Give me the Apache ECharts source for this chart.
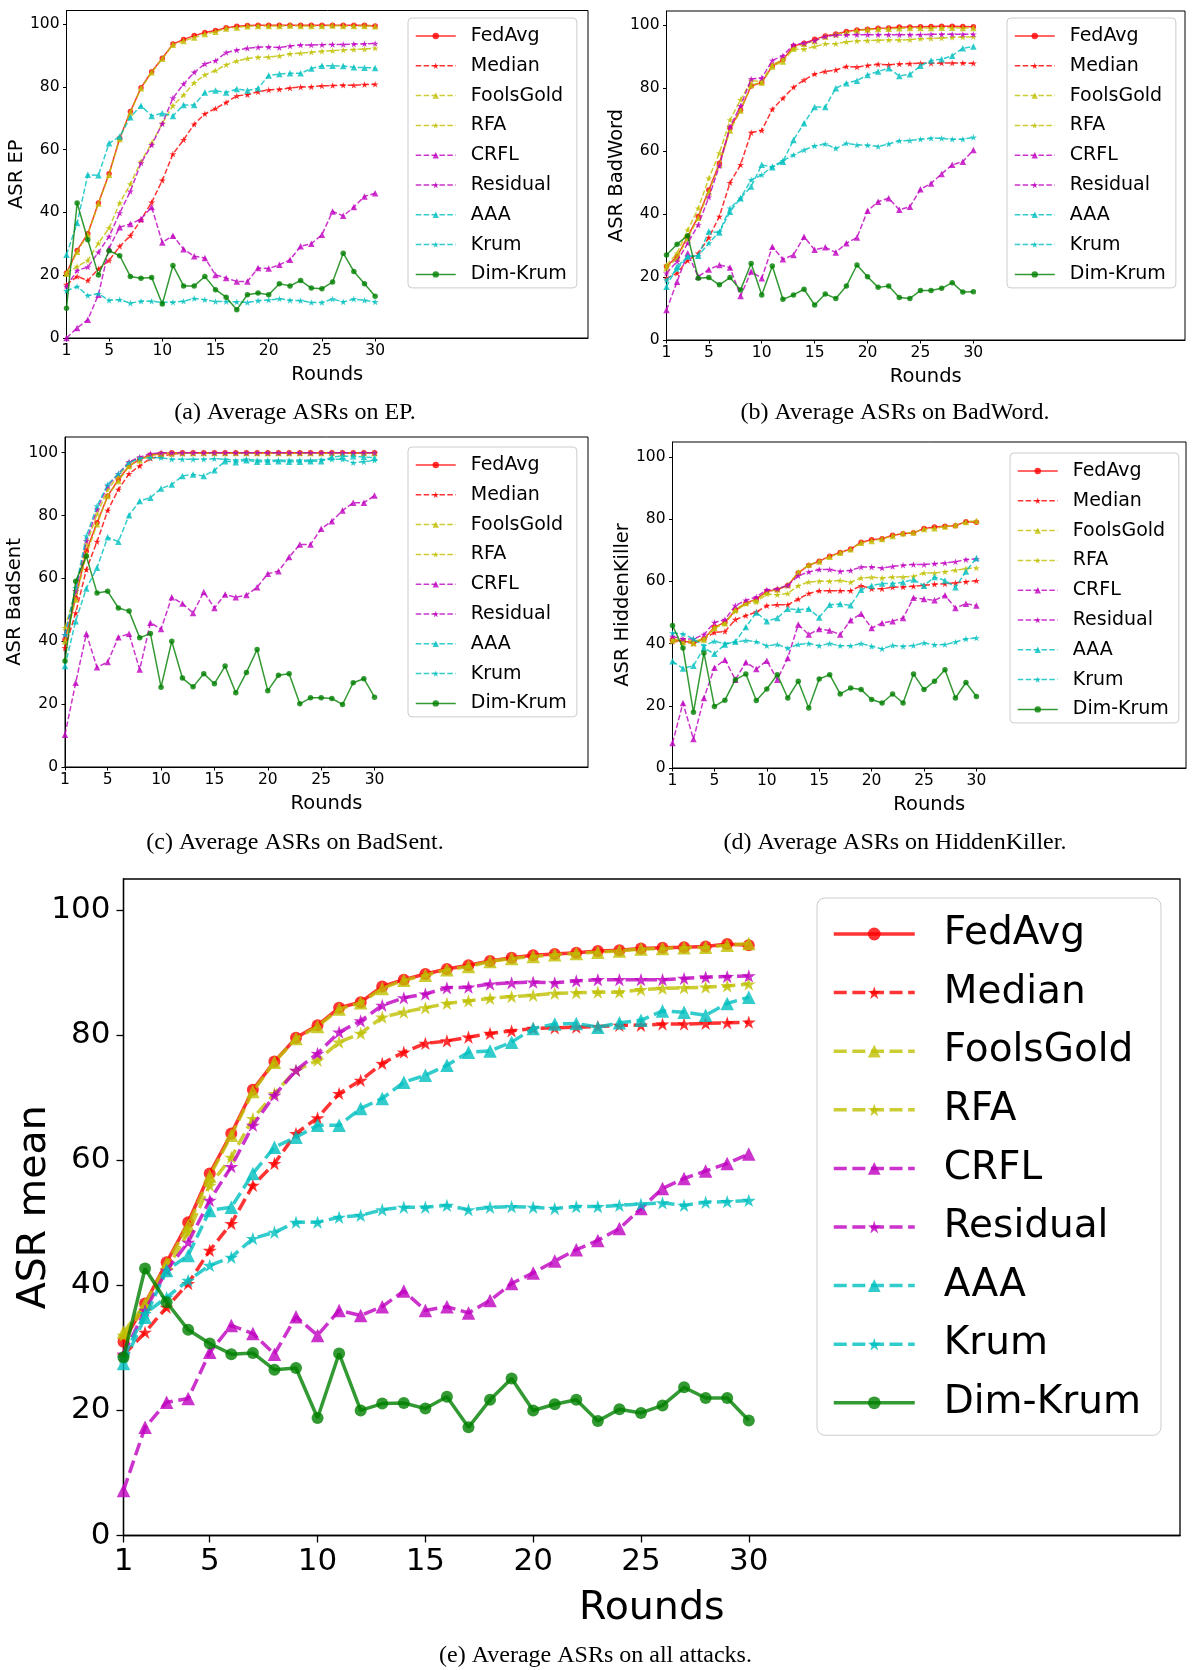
<!DOCTYPE html>
<html>
<head>
<meta charset="utf-8">
<script src="https://cdn.jsdelivr.net/npm/echarts@6/dist/echarts.min.js"></script>
<style>
  html, body { margin: 0; padding: 0; background: #fff; }
  #main { width: 1192px; height: 1670px; }
</style>
</head>
<body>
<div id="main"></div>
<script>
// rounds on the x axis
var rounds = [1, 2, 3, 4, 5, 6, 7, 8, 9, 10, 11, 12, 13, 14, 15, 16, 17, 18, 19, 20, 21, 22, 23, 24, 25, 26, 27, 28, 29, 30];
var xTicks = [1, 5, 10, 15, 20, 25, 30];
var yTicks = [0, 20, 40, 60, 80, 100];
var methods = ['FedAvg', 'Median', 'FoolsGold', 'RFA', 'CRFL', 'Residual', 'AAA', 'Krum', 'Dim-Krum'];

// (a) EP
var epFedAvg = [20.7, 27.9, 33.2, 43.0, 52.3, 63.6, 72.1, 79.7, 84.8, 89.1, 93.6, 95.1, 96.3, 97.3, 97.9, 98.8, 99.3, 99.5, 99.6, 99.6, 99.6, 99.6, 99.6, 99.6, 99.6, 99.6, 99.6, 99.6, 99.6, 99.4];
var epMedian = [17.0, 19.6, 18.3, 22.0, 24.7, 29.2, 32.6, 37.6, 43.2, 50.2, 58.6, 63.1, 68.1, 71.4, 73.1, 75.0, 77.1, 77.5, 78.4, 79.0, 79.2, 79.6, 79.9, 80.0, 80.3, 80.4, 80.5, 80.5, 80.7, 80.8];
var epFoolsGold = [20.5, 27.5, 33.0, 42.8, 52.0, 63.4, 71.8, 79.5, 84.6, 88.9, 93.4, 94.6, 95.7, 96.8, 97.5, 98.6, 98.9, 99.3, 99.4, 99.4, 99.4, 99.5, 99.4, 99.4, 99.4, 99.5, 99.4, 99.4, 99.4, 99.3];
var epRFA = [20.7, 22.8, 24.7, 30.2, 35.0, 43.0, 49.0, 56.2, 62.0, 68.4, 74.0, 77.4, 81.3, 83.8, 85.2, 87.0, 88.2, 89.0, 89.4, 89.5, 89.8, 90.5, 90.7, 91.0, 91.3, 91.5, 91.7, 91.9, 92.0, 92.3];
var epCRFL = [0.0, 3.2, 5.8, 13.8, 28.6, 35.3, 36.3, 37.9, 41.7, 30.4, 32.6, 28.3, 26.0, 25.5, 20.1, 19.1, 18.0, 18.0, 22.3, 22.1, 23.3, 24.9, 29.2, 30.0, 32.9, 40.3, 38.9, 41.7, 45.1, 46.1];
var epResidual = [16.4, 21.5, 22.6, 27.3, 32.3, 39.8, 46.7, 55.7, 61.5, 68.2, 76.4, 80.9, 84.6, 87.3, 88.3, 90.9, 91.7, 92.3, 92.6, 92.7, 92.5, 93.0, 93.3, 93.3, 93.4, 93.5, 93.5, 93.6, 93.7, 93.8];
var epAAA = [26.5, 36.6, 52.0, 51.8, 62.0, 64.2, 70.3, 74.0, 70.7, 71.6, 70.7, 74.2, 74.2, 78.2, 78.8, 78.2, 79.3, 78.8, 79.5, 83.6, 84.1, 84.3, 84.3, 85.8, 86.7, 86.7, 86.6, 86.2, 86.1, 86.0];
var epKrum = [15.0, 16.4, 13.5, 14.1, 12.0, 12.2, 11.1, 11.7, 11.7, 11.3, 11.4, 11.7, 12.6, 12.2, 11.6, 11.6, 11.5, 11.3, 11.9, 12.1, 12.5, 12.0, 11.9, 11.3, 11.3, 12.4, 11.5, 12.4, 12.0, 11.5];
var epDimKrum = [9.5, 43.0, 31.3, 20.1, 27.8, 26.2, 19.6, 19.0, 19.3, 10.8, 23.1, 16.6, 16.6, 19.6, 15.4, 13.0, 9.0, 13.8, 14.3, 13.8, 17.3, 16.6, 18.3, 15.9, 15.7, 17.8, 27.0, 21.2, 17.3, 13.3];

// (b) BadWord
var bwFedAvg = [23.3, 26.5, 32.8, 39.2, 47.6, 56.1, 67.2, 73.0, 80.6, 81.7, 87.0, 88.9, 93.3, 94.2, 95.4, 96.5, 97.1, 97.9, 98.4, 98.6, 98.9, 99.0, 99.3, 99.3, 99.4, 99.5, 99.6, 99.6, 99.5, 99.4];
var bwMedian = [19.6, 21.2, 25.2, 27.5, 32.5, 39.2, 49.9, 55.6, 65.8, 66.5, 73.2, 76.7, 80.2, 82.5, 84.4, 85.2, 85.7, 86.8, 86.6, 87.1, 87.5, 87.3, 87.6, 87.7, 87.8, 87.8, 87.9, 87.9, 87.9, 87.8];
var bwFoolsGold = [22.8, 26.0, 32.3, 38.8, 47.0, 55.6, 66.5, 72.8, 80.9, 81.7, 86.8, 88.4, 92.6, 94.0, 94.9, 96.3, 97.0, 97.6, 98.2, 98.5, 98.7, 98.8, 98.9, 99.0, 99.0, 99.0, 99.1, 99.1, 99.0, 99.0];
var bwRFA = [23.8, 27.5, 34.9, 41.8, 51.3, 59.3, 69.8, 76.2, 82.3, 82.0, 87.3, 89.1, 92.3, 92.3, 93.1, 94.0, 94.0, 94.6, 94.9, 95.0, 95.1, 95.2, 95.2, 95.3, 95.6, 95.7, 95.8, 96.0, 96.1, 96.2];
var bwCRFL = [9.5, 18.5, 27.5, 20.1, 22.4, 23.8, 23.0, 14.0, 21.7, 19.6, 29.6, 25.6, 27.0, 32.8, 28.6, 29.4, 27.8, 30.7, 32.5, 41.0, 43.9, 45.0, 41.3, 42.3, 47.8, 49.7, 52.7, 55.6, 56.6, 60.3];
var bwResidual = [21.2, 24.9, 30.7, 36.5, 45.3, 55.2, 67.7, 74.3, 82.8, 83.1, 88.7, 90.2, 93.7, 94.2, 95.0, 96.3, 96.8, 96.8, 96.9, 96.9, 96.9, 96.9, 96.9, 96.9, 96.9, 97.0, 97.0, 97.0, 97.0, 97.0];
var bwAAA = [16.9, 23.3, 26.5, 26.7, 34.4, 34.1, 40.7, 45.0, 48.7, 55.6, 54.8, 56.6, 63.5, 68.8, 73.9, 73.9, 79.9, 81.5, 82.3, 84.1, 85.2, 86.2, 83.8, 84.3, 87.0, 88.7, 89.1, 90.2, 92.6, 93.1];
var bwKrum = [19.0, 22.4, 26.5, 26.7, 30.7, 34.4, 41.8, 45.0, 50.8, 52.4, 55.0, 56.9, 58.7, 60.3, 61.6, 62.2, 60.8, 62.4, 61.9, 61.8, 61.4, 62.2, 63.2, 63.3, 63.7, 64.0, 64.0, 63.7, 63.7, 64.3];
var bwDimKrum = [27.0, 30.4, 33.1, 19.6, 19.8, 17.5, 19.8, 15.9, 24.3, 14.3, 23.5, 12.9, 14.3, 16.1, 11.1, 14.6, 13.2, 17.1, 23.8, 20.1, 16.7, 17.1, 13.5, 13.2, 15.7, 15.7, 16.4, 18.2, 15.2, 15.3];

// (c) BadSent
var bsFedAvg = [40.6, 53.8, 68.7, 77.7, 86.2, 91.5, 95.8, 97.9, 99.3, 99.7, 100, 100, 100, 100, 100, 100, 100, 100, 100, 100, 100, 100, 100, 100, 100, 100, 100, 100, 100, 100];
var bsMedian = [37.9, 49.0, 62.8, 71.7, 81.6, 88.3, 93.3, 95.8, 98.2, 98.9, 99.5, 99.8, 99.9, 99.9, 99.9, 99.9, 99.9, 99.9, 99.9, 99.9, 99.9, 99.9, 99.9, 99.9, 99.9, 99.9, 99.9, 99.9, 99.9, 99.9];
var bsFoolsGold = [40.0, 53.3, 67.6, 77.2, 86.2, 91.0, 95.8, 97.6, 99.0, 99.7, 99.8, 99.9, 99.9, 99.9, 99.9, 99.9, 99.9, 99.9, 99.9, 99.9, 99.9, 99.9, 99.9, 99.9, 99.9, 99.9, 99.9, 99.9, 99.9, 99.9];
var bsRFA = [44.3, 56.0, 70.8, 80.4, 88.3, 92.6, 96.8, 98.4, 99.5, 99.9, 99.9, 99.9, 99.9, 99.9, 99.9, 99.9, 99.9, 99.9, 99.9, 99.9, 99.9, 99.9, 99.9, 99.9, 99.9, 99.9, 99.9, 99.9, 99.9, 99.9];
var bsCRFL = [10.3, 26.8, 42.4, 31.7, 33.4, 41.3, 42.4, 31.0, 45.9, 43.9, 54.0, 52.0, 49.0, 55.7, 50.6, 54.9, 54.0, 54.7, 57.2, 61.5, 62.3, 66.8, 70.8, 70.8, 75.8, 78.2, 81.6, 84.1, 84.1, 86.4];
var bsResidual = [42.1, 56.0, 71.9, 82.0, 89.4, 93.3, 97.1, 98.6, 99.7, 100, 100, 100, 100, 100, 100, 100, 100, 100, 100, 100, 100, 100, 100, 100, 100, 100, 100, 100, 100, 100];
var bsAAA = [32.1, 46.4, 56.8, 63.4, 73.1, 71.7, 80.1, 84.6, 85.7, 88.6, 89.9, 92.6, 93.1, 92.6, 94.4, 97.3, 97.0, 97.6, 97.1, 97.1, 97.3, 97.1, 97.1, 97.3, 97.3, 98.6, 98.9, 98.9, 98.6, 98.4];
var bsKrum = [42.1, 57.0, 73.5, 83.0, 89.9, 93.3, 96.8, 98.2, 98.4, 98.4, 97.9, 97.9, 97.9, 97.9, 98.1, 97.9, 97.6, 97.9, 97.6, 97.6, 97.6, 97.6, 97.6, 97.6, 97.8, 97.9, 97.9, 96.8, 97.1, 97.6];
var bsDimKrum = [33.7, 59.1, 67.1, 55.4, 55.9, 50.6, 49.6, 41.1, 42.5, 25.4, 40.0, 28.3, 25.5, 29.7, 26.5, 32.1, 23.6, 30.1, 37.4, 24.3, 29.2, 29.7, 20.1, 22.0, 22.0, 21.8, 19.9, 26.8, 28.1, 22.2];

// (d) HiddenKiller
var hkFedAvg = [41.3, 40.7, 40.4, 41.5, 45.3, 46.8, 50.7, 53.0, 54.3, 56.8, 57.3, 58.7, 62.7, 65.1, 66.5, 68.1, 69.3, 70.4, 72.6, 73.4, 73.7, 74.8, 75.3, 75.6, 77.0, 77.5, 77.7, 77.9, 79.2, 79.0];
var hkMedian = [40.7, 40.7, 40.0, 41.5, 43.6, 43.9, 47.7, 49.0, 50.1, 52.2, 52.5, 52.5, 54.3, 56.1, 57.0, 57.0, 57.0, 57.0, 58.6, 57.6, 57.6, 58.1, 58.2, 58.4, 58.7, 59.1, 59.2, 59.5, 59.9, 60.2];
var hkFoolsGold = [41.0, 40.5, 40.2, 41.3, 45.0, 46.5, 50.9, 53.2, 54.0, 56.5, 57.5, 58.8, 62.9, 65.3, 66.4, 67.9, 69.2, 70.3, 72.4, 73.0, 73.6, 74.6, 75.5, 75.7, 76.8, 77.1, 77.6, 78.1, 79.1, 79.5];
var hkRFA = [41.3, 41.3, 40.7, 41.5, 45.0, 46.6, 50.4, 52.8, 53.3, 55.9, 55.7, 56.1, 58.6, 59.8, 60.0, 60.0, 60.3, 59.7, 61.1, 61.3, 61.1, 61.4, 61.4, 61.6, 62.7, 62.7, 63.1, 63.6, 64.1, 64.3];
var hkCRFL = [8.0, 20.9, 9.3, 22.5, 32.2, 34.8, 28.4, 34.0, 31.8, 34.5, 28.4, 35.4, 46.1, 42.9, 44.7, 44.2, 42.9, 47.5, 49.6, 45.0, 46.6, 47.2, 48.2, 54.7, 54.3, 53.9, 55.5, 51.4, 52.8, 52.2];
var hkResidual = [42.3, 41.5, 41.5, 42.9, 46.8, 47.7, 52.2, 53.9, 55.0, 57.3, 57.6, 58.7, 61.8, 63.0, 63.8, 63.8, 63.2, 63.5, 64.6, 64.6, 64.3, 64.8, 65.2, 65.4, 65.4, 65.7, 65.9, 66.3, 67.0, 67.2];
var hkAAA = [34.3, 32.0, 32.9, 38.6, 36.7, 39.7, 40.7, 45.3, 50.0, 47.2, 48.2, 51.2, 50.9, 51.2, 48.4, 52.5, 52.7, 52.3, 57.3, 58.6, 59.3, 59.3, 59.7, 60.6, 58.6, 61.4, 60.3, 58.1, 63.2, 67.5];
var hkKrum = [43.4, 43.1, 41.5, 39.3, 40.7, 40.0, 40.5, 41.0, 40.6, 39.3, 39.7, 38.5, 39.7, 40.0, 39.3, 40.0, 39.3, 39.3, 40.0, 39.1, 38.3, 39.4, 39.1, 39.4, 40.2, 39.6, 39.7, 40.5, 41.5, 41.8];
var hkDimKrum = [45.8, 38.6, 17.9, 37.0, 19.8, 21.8, 28.4, 30.2, 21.7, 25.4, 30.0, 22.5, 27.9, 19.3, 28.6, 30.0, 23.8, 25.7, 25.2, 22.0, 20.9, 23.8, 20.9, 30.2, 25.2, 27.9, 31.6, 22.5, 27.5, 23.0];

// (e) mean over all attacks
var mnFedAvg = [31.0, 37.1, 43.7, 50.1, 57.9, 64.3, 71.3, 75.8, 79.6, 81.6, 84.4, 85.3, 87.8, 88.9, 89.8, 90.6, 91.2, 91.9, 92.4, 92.8, 93.0, 93.2, 93.5, 93.6, 93.9, 94.0, 94.1, 94.2, 94.6, 94.4];
var mnMedian = [28.8, 32.5, 36.5, 40.3, 45.6, 49.9, 56.0, 59.5, 64.3, 66.8, 70.7, 72.8, 75.5, 77.3, 78.7, 79.1, 79.7, 80.3, 80.7, 81.1, 81.2, 81.3, 81.4, 81.6, 81.6, 81.8, 81.8, 81.9, 82.0, 82.1];
var mnFoolsGold = [32.5, 37.0, 43.5, 49.6, 57.5, 64.0, 71.0, 75.7, 79.5, 81.4, 84.2, 85.2, 87.5, 88.8, 89.6, 90.5, 91.0, 91.8, 92.3, 92.6, 92.9, 93.1, 93.3, 93.5, 93.8, 93.9, 94.0, 94.1, 94.4, 94.7];
var mnRFA = [32.0, 36.5, 42.5, 48.5, 56.0, 60.5, 66.7, 70.7, 74.4, 76.0, 78.9, 80.3, 82.9, 83.7, 84.4, 85.1, 85.5, 85.9, 86.2, 86.4, 86.7, 86.8, 86.9, 86.9, 87.3, 87.5, 87.6, 87.7, 87.9, 88.2];
var mnCRFL = [7.2, 17.3, 21.3, 21.9, 29.3, 33.6, 32.3, 29.0, 35.0, 32.0, 36.0, 35.2, 36.6, 39.1, 36.0, 36.6, 35.6, 37.6, 40.3, 42.0, 43.9, 45.7, 47.2, 49.1, 52.3, 55.5, 57.1, 58.3, 59.5, 61.0];
var mnResidual = [29.0, 36.0, 42.4, 46.9, 53.6, 59.0, 65.6, 70.4, 74.4, 77.1, 80.5, 82.3, 84.8, 86.0, 86.6, 87.6, 87.7, 88.2, 88.4, 88.5, 88.4, 88.7, 88.9, 88.9, 88.9, 88.9, 89.1, 89.3, 89.4, 89.5];
var mnAAA = [27.5, 34.9, 42.4, 44.8, 52.0, 52.5, 57.9, 62.1, 63.7, 65.6, 65.6, 68.3, 69.9, 72.5, 73.6, 75.2, 77.3, 77.5, 78.9, 81.1, 81.8, 81.9, 81.3, 82.0, 82.4, 83.9, 83.7, 83.2, 85.1, 86.1];
var mnKrum = [28.5, 35.5, 38.1, 40.8, 43.2, 44.5, 47.5, 48.5, 50.1, 50.1, 50.9, 51.2, 52.1, 52.5, 52.5, 52.8, 52.1, 52.5, 52.6, 52.5, 52.3, 52.6, 52.6, 52.8, 53.0, 53.2, 52.8, 53.3, 53.4, 53.6];
var mnDimKrum = [28.5, 42.7, 37.3, 32.9, 30.7, 29.0, 29.2, 26.5, 26.8, 18.8, 29.1, 20.0, 21.1, 21.2, 20.3, 22.2, 17.3, 21.7, 25.1, 20.0, 21.0, 21.7, 18.3, 20.2, 19.6, 20.8, 23.7, 22.0, 22.0, 18.4];

var STAR = 'path://M0,-10L2.24,-3.08L9.51,-3.09L3.62,1.18L5.88,8.09L0,3.81L-5.88,8.09L-3.62,1.18L-9.51,-3.09L-2.24,-3.08Z';
var colors = ['#ff0000', '#ff0000', '#bfbf00', '#bfbf00', '#bf00bf', '#bf00bf', '#00bfbf', '#00bfbf', '#008000'];
var markers = ['circle', STAR, 'triangle', STAR, 'triangle', STAR, 'triangle', STAR, 'circle'];
var solid = [true, false, false, false, false, false, false, false, true];
var SANS = 'DejaVu Sans';

var small = {
  lw: 1.5, dash: [5.5, 2.4], sym: { circle: 5.5, triangle: 6.5, star: 7 },
  tick: 3.5, tickFont: 15.5, nameFont: 19.5, legendFont: 19,
  itemW: 40, itemH: 8, itemGap: 10.8, pad: [8.5, 10, 4, 7], textGap: 10, radius: 4,
  xNameGap: 27, yNameGap: 40, xMargin: 5, yMargin: 7, border: 1
};
var big = {
  lw: 3.5, dash: [13, 5.6], sym: { circle: 12, triangle: 13.5, star: 14 },
  tick: 7, tickFont: 31, nameFont: 39.5, legendFont: 39,
  itemW: 81, itemH: 16, itemGap: 19.6, pad: [16.5, 20, 13, 15], textGap: 24, radius: 8,
  xNameGap: 53, yNameGap: 69, xMargin: 11, yMargin: 13, border: 1.3
};

var panels = [
  { key: 'a', ylabel: 'ASR EP', caption: '(a) Average ASRs on EP.', cap: [295, 413],
    data: [epFedAvg, epMedian, epFoolsGold, epRFA, epCRFL, epResidual, epAAA, epKrum, epDimKrum],
    grid: [66.5, 10.5, 521.5, 327.5], ymax: 104.3, legend: [408, 18], s: small },
  { key: 'b', ylabel: 'ASR BadWord', caption: '(b) Average ASRs on BadWord.', cap: [895, 413],
    data: [bwFedAvg, bwMedian, bwFoolsGold, bwRFA, bwCRFL, bwResidual, bwAAA, bwKrum, bwDimKrum],
    grid: [666.5, 11, 518.5, 329], ymax: 104.4, legend: [1007, 18], s: small },
  { key: 'c', ylabel: 'ASR BadSent', caption: '(c) Average ASRs on BadSent.', cap: [295, 843],
    data: [bsFedAvg, bsMedian, bsFoolsGold, bsRFA, bsCRFL, bsResidual, bsAAA, bsKrum, bsDimKrum],
    grid: [65, 437, 523, 330], ymax: 105, legend: [408, 447], s: small },
  { key: 'd', ylabel: 'ASR HiddenKiller', caption: '(d) Average ASRs on HiddenKiller.', cap: [895, 843],
    data: [hkFedAvg, hkMedian, hkFoolsGold, hkRFA, hkCRFL, hkResidual, hkAAA, hkKrum, hkDimKrum],
    grid: [672.5, 442, 513.5, 326], ymax: 104.8, legend: [1010, 453], s: small },
  { key: 'e', ylabel: 'ASR mean', caption: '(e) Average ASRs on all attacks.', cap: [595.5, 1656],
    data: [mnFedAvg, mnMedian, mnFoolsGold, mnRFA, mnCRFL, mnResidual, mnAAA, mnKrum, mnDimKrum],
    grid: [123.5, 879, 1056.5, 656.5], ymax: 105, legend: [817, 898], s: big }
];

function symSize(s, i) {
  if (markers[i] === 'circle') return s.sym.circle;
  if (markers[i] === 'triangle') return s.sym.triangle;
  return s.sym.star;
}

var grids = [], xAxes = [], yAxes = [], series = [], legends = [], graphics = [];

panels.forEach(function (p, pi) {
  var s = p.s;
  grids.push({
    left: p.grid[0], top: p.grid[1], width: p.grid[2], height: p.grid[3],
    show: true, borderColor: '#000', borderWidth: s.border, backgroundColor: 'transparent',
    containLabel: false, outerBoundsMode: 'none'
  });
  xAxes.push({
    type: 'value', gridIndex: pi, min: 1, max: 50,
    name: 'Rounds', nameLocation: 'middle', nameGap: s.xNameGap, nameMoveOverlap: false,
    nameTextStyle: { fontSize: s.nameFont, fontFamily: SANS, color: '#000' },
    axisLine: { show: true, onZero: false, lineStyle: { color: '#000', width: s.border } },
    axisTick: { show: true, inside: false, length: s.tick, customValues: xTicks, lineStyle: { color: '#000', width: s.border } },
    axisLabel: { customValues: xTicks, margin: s.xMargin, fontSize: s.tickFont, fontFamily: SANS, color: '#000' },
    splitLine: { show: false }
  });
  yAxes.push({
    type: 'value', gridIndex: pi, min: 0, max: p.ymax,
    name: p.ylabel, nameLocation: 'middle', nameGap: s.yNameGap, nameMoveOverlap: false,
    nameTextStyle: { fontSize: s.nameFont, fontFamily: SANS, color: '#000' },
    axisLine: { show: true, onZero: false, lineStyle: { color: '#000', width: s.border } },
    axisTick: { show: true, inside: false, length: s.tick, customValues: yTicks, lineStyle: { color: '#000', width: s.border } },
    axisLabel: { customValues: yTicks, margin: s.yMargin, fontSize: s.tickFont, fontFamily: SANS, color: '#000' },
    splitLine: { show: false }
  });

  methods.forEach(function (m, i) {
    var vals = p.data[i];
    series.push({
      type: 'line',
      name: m + '#' + p.key,
      xAxisIndex: pi, yAxisIndex: pi,
      data: rounds.map(function (r, k) { return [r, vals[k]]; }),
      symbol: markers[i], symbolSize: symSize(s, i), symbolKeepAspect: true,
      showSymbol: true, showAllSymbol: true,
      lineStyle: { color: colors[i], width: s.lw, type: solid[i] ? 'solid' : s.dash, opacity: 0.8 },
      itemStyle: { color: colors[i], opacity: 0.8 },
      emphasis: { disabled: true },
      z: 2 + i * 0.01,
      animation: false
    });
  });

  legends.push({
    data: methods.map(function (m) { return m + '#' + p.key; }),
    formatter: function (n) { return n.split('#')[0]; },
    orient: 'vertical', left: p.legend[0], top: p.legend[1],
    itemWidth: s.itemW, itemHeight: s.itemH, itemGap: s.itemGap,
    padding: s.pad, borderColor: '#cccccc', borderWidth: 1, borderRadius: s.radius,
    backgroundColor: '#fff', selectedMode: false,
    lineStyle: { width: s.lw },
    textStyle: { fontSize: s.legendFont, lineHeight: s.legendFont, fontFamily: SANS, color: '#000', padding: [0, 0, 0, s.textGap] }
  });

  graphics.push({
    type: 'text', x: p.cap[0], y: p.cap[1],
    style: {
      text: p.caption, fontSize: 24, fontFamily: 'Liberation Serif', fill: '#000',
      textAlign: 'center', textVerticalAlign: 'middle', align: 'center', verticalAlign: 'middle'
    }
  });
});

var chart = echarts.init(document.getElementById('main'), null, { renderer: 'canvas' });
chart.setOption({
  backgroundColor: '#fff',
  animation: false,
  grid: grids,
  xAxis: xAxes,
  yAxis: yAxes,
  legend: legends,
  series: series,
  graphic: graphics
});
</script>
</body>
</html>
